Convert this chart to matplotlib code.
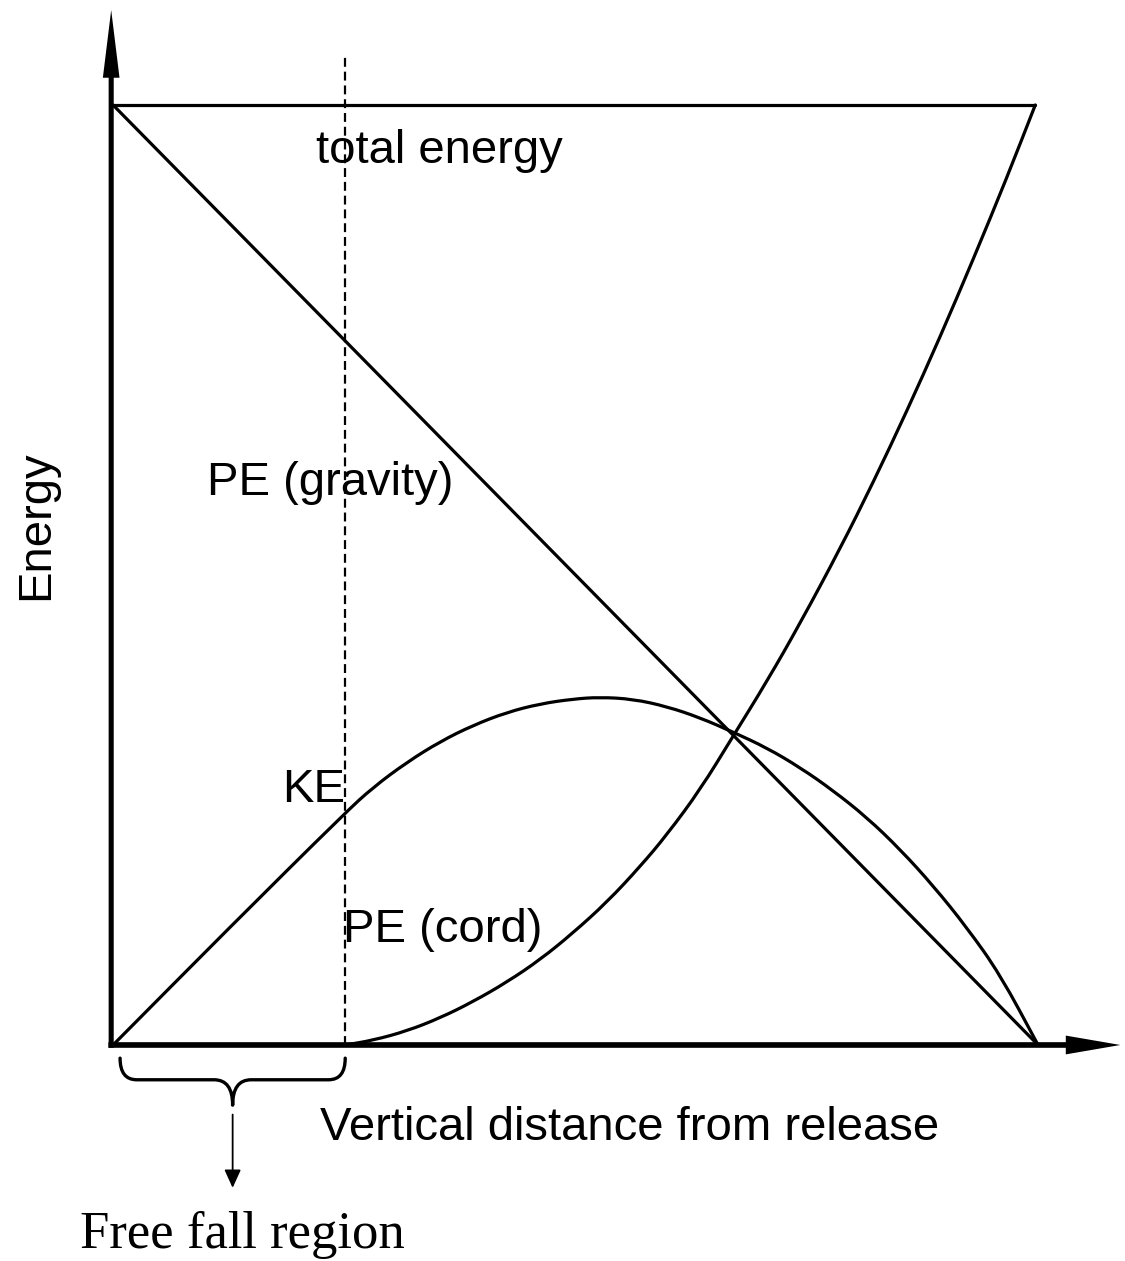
import matplotlib.pyplot as plt
from matplotlib.path import Path
from matplotlib.patches import PathPatch

# Values (distance and energy both on a 0-100 scale)
FREE_FALL_END = 25.1
TOTAL_ENERGY = 100.0

pe_gravity_x = [0.0, 100.0]
pe_gravity_y = [100.0, 0.0]

ke_x = [0.0, 12.5, 25.1, 28.1, 31.8, 35.4, 38.9, 42.6, 46.2, 49.7, 52.6, 56.2, 59.9,
        63.5, 67.0, 70.7, 74.3, 77.8, 81.5, 85.1, 88.7, 92.3, 95.9, 100.0]
ke_y = [0.0, 12.4, 24.7, 27.4, 30.1, 32.3, 34.0, 35.4, 36.3, 36.8, 37.0, 36.8, 36.0,
        34.8, 33.3, 31.6, 29.5, 27.1, 24.2, 20.8, 16.9, 12.5, 7.5, 0.0]

pe_cord_x = [25.1, 28.1, 31.8, 35.4, 38.9, 42.6, 46.2, 49.7, 53.4, 57.0, 59.9,
             63.5, 67.0, 70.7, 74.3, 78.6, 82.2, 85.8, 89.4, 93.0, 96.6, 99.7]
pe_cord_y = [0.0, 0.5, 1.5, 2.9, 4.6, 6.7, 9.1, 11.9, 15.2, 19.0, 22.4,
             27.2, 32.8, 38.7, 44.9, 52.8, 59.9, 67.4, 75.3, 83.6, 92.2, 100.0]


def smooth_path(xs, ys):
    # quadratic B-spline through the read points, drawn by matplotlib's Path
    pts = list(zip(xs, ys))
    mid = lambda a, b: ((a[0] + b[0]) / 2, (a[1] + b[1]) / 2)
    verts = [pts[0], mid(pts[0], pts[1])]
    codes = [Path.MOVETO, Path.LINETO]
    for i in range(1, len(pts) - 1):
        verts += [pts[i], mid(pts[i], pts[i + 1])]
        codes += [Path.CURVE3, Path.CURVE3]
    verts.append(pts[-1])
    codes.append(Path.LINETO)
    return Path(verts, codes)


fig = plt.figure(figsize=(11.25, 12.61), dpi=100, facecolor='white')
ax = fig.add_axes([0, 0, 1, 1])
ax.set_xlim(-12.22, 109.4)
ax.set_ylim(-22.98, 111.17)
ax.axis('off')

sans = 'Liberation Sans'
line_kw = dict(color='black', lw=2.3, solid_joinstyle='round', solid_capstyle='round')
curve_kw = dict(fill=False, edgecolor='black', lw=2.3, joinstyle='round', capstyle='round')

# energy curves
ax.plot([0, 99.7], [TOTAL_ENERGY, TOTAL_ENERGY], **line_kw)
ax.plot(pe_gravity_x, pe_gravity_y, **line_kw)
ax.add_patch(PathPatch(smooth_path(ke_x, ke_y), **curve_kw))
ax.add_patch(PathPatch(smooth_path(pe_cord_x, pe_cord_y), **curve_kw))

# end of free fall (cord starts stretching)
ax.plot([FREE_FALL_END, FREE_FALL_END], [0, 105.3], color='black', lw=1.6,
        dashes=(4.0, 2.2))

# axes drawn as thick arrows
ax.arrow(-0.2, -0.3, 0, 110.4, width=0.55, head_width=1.8, head_length=7.2,
         length_includes_head=True, color='black', lw=0, zorder=5)
ax.arrow(-0.5, 0, 109.4, 0, width=0.6, head_width=2.0, head_length=5.9,
         length_includes_head=True, color='black', lw=0, zorder=5)

# labels
ax.text(21.9, 93.8, 'total energy', fontsize=34, family=sans)
ax.text(10.2, 58.5, 'PE (gravity)', fontsize=34, family=sans)
ax.text(18.3, 25.9, 'KE', fontsize=34, family=sans)
ax.text(24.9, 11.0, 'PE (cord)', fontsize=34, family=sans)
ax.text(22.4, -10.1, 'Vertical distance from release', fontsize=34, family=sans)
ax.text(-8.3, 55.3, 'Energy', fontsize=34, family=sans, rotation=90,
        ha='center', va='center')

# brace under the free fall part of the x axis
x_l, x_r = 0.76, FREE_FALL_END
xc = (x_l + x_r) / 2
y_top, y_mid, y_tip = -1.4, -3.7, -6.4
verts = [(x_l, y_top), (x_l, y_mid), (x_l + 1.8, y_mid),
         (xc - 2.0, y_mid), (xc, y_mid), (xc, y_tip),
         (xc, y_mid), (xc + 2.0, y_mid),
         (x_r - 1.8, y_mid), (x_r, y_mid), (x_r, y_top)]
codes = [Path.MOVETO, Path.CURVE3, Path.CURVE3,
         Path.LINETO, Path.CURVE3, Path.CURVE3,
         Path.CURVE3, Path.CURVE3,
         Path.LINETO, Path.CURVE3, Path.CURVE3]
ax.add_patch(PathPatch(Path(verts, codes), fill=False, lw=2.4, color='black',
                       capstyle='round', joinstyle='round'))

ax.annotate('', xy=(xc, -15.2), xytext=(xc, -7.4),
            arrowprops=dict(arrowstyle='-|>,head_length=1.1,head_width=0.5',
                            lw=1.3, color='black', shrinkA=0, shrinkB=0))
ax.text(-3.57, -21.6, 'Free fall region', fontsize=38, family='Liberation Serif')

plt.savefig('out.png', dpi=100, facecolor='white')
